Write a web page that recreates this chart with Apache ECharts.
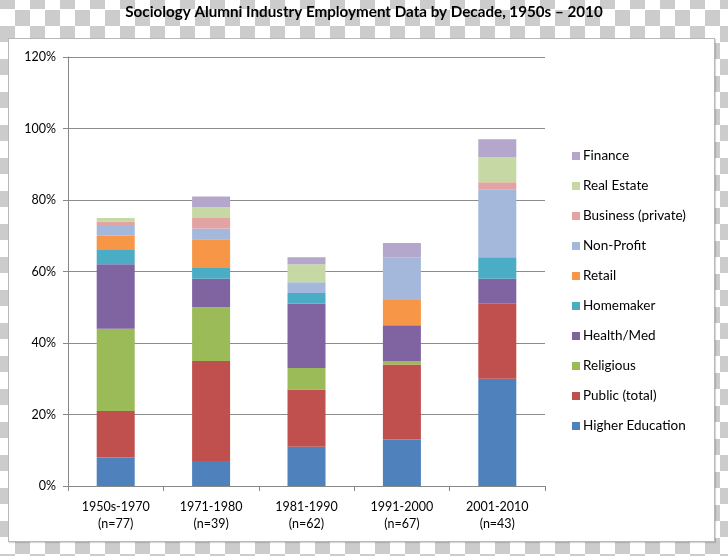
<!DOCTYPE html>
<html>
<head>
<meta charset="utf-8">
<script src="https://cdn.jsdelivr.net/npm/echarts@6/dist/echarts.min.js"></script>
<style>
  html, body { margin: 0; padding: 0; }
  body {
    width: 728px; height: 556px; position: relative; overflow: hidden;
    background: repeating-conic-gradient(#cccccc 0 25%, #ffffff 0 50%) 15px -7px / 30px 33px;
  }
  #panel {
    position: absolute; left: 8px; top: 38px; width: 705px; height: 502px;
    background: #ffffff; border: 1px solid #b8b8b8;
    box-shadow: 1px 1px 1px rgba(0,0,0,0.15);
  }
  #chart { position: absolute; left: 0; top: 0; width: 728px; height: 556px; }
</style>
</head>
<body>
<div id="panel"></div>
<div id="chart"></div>
<script>
const titleText = 'Sociology Alumni Industry Employment Data by Decade, 1950s \u2013 2010';
const categories = ['1950s-1970\n(n=77)', '1971-1980\n(n=39)', '1981-1990\n(n=62)', '1991-2000\n(n=67)', '2001-2010\n(n=43)'];
const yTicks = [0, 20, 40, 60, 80, 100, 120];

const seriesNames = ['Higher Education', 'Public (total)', 'Religious', 'Health/Med', 'Homemaker', 'Retail', 'Non-Profit', 'Business (private)', 'Real Estate', 'Finance'];
const seriesColors = ['#4F81BD', '#C0504D', '#9BBB59', '#8064A2', '#4BACC6', '#F79646', '#A3B8DA', '#E3A3A2', '#C6D9A5', '#B5A6CB'];

const higherEducation = [8, 7, 11, 13, 30];
const publicTotal     = [13, 28, 16, 21, 21];
const religious       = [23, 15, 6, 1, 0];
const healthMed       = [18, 8, 18, 10, 7];
const homemaker       = [4, 3, 3, 0, 6];
const retail          = [4, 8, 0, 7, 0];
const nonProfit       = [3, 3, 3, 12, 19];
const businessPrivate = [1, 3, 0, 0, 2];
const realEstate      = [1, 3, 5, 0, 7];
const finance         = [0, 3, 2, 4, 5];

const seriesData = [higherEducation, publicTotal, religious, healthMed, homemaker, retail, nonProfit, businessPrivate, realEstate, finance];

const FONT = 'Lato, "Open Sans", sans-serif';

const chart = echarts.init(document.getElementById('chart'), null, { renderer: 'canvas' });
chart.setOption({
  backgroundColor: 'transparent',
  animation: false,
  title: {
    text: titleText,
    left: 'center',
    top: 0,
    textStyle: { fontFamily: FONT, fontSize: 15.2, fontWeight: 'bold', color: '#000' }
  },
  legend: {
    orient: 'vertical',
    left: 567,
    top: 144,
    itemWidth: 8,
    itemHeight: 8,
    itemGap: 16,
    icon: 'rect',
    data: seriesNames.slice().reverse(),
    textStyle: { fontFamily: FONT, fontSize: 13.5, color: '#000', padding: [0, 0, 0, -2] }
  },
  grid: { left: 68, right: 183, top: 57, bottom: 70 },
  xAxis: {
    type: 'category',
    data: categories,
    axisLine: { lineStyle: { color: '#888', width: 1 } },
    axisTick: { show: true, alignWithLabel: false, length: 5, lineStyle: { color: '#888' } },
    axisLabel: { fontFamily: FONT, fontSize: 12.5, color: '#000', lineHeight: 17, margin: 12 }
  },
  yAxis: {
    type: 'value',
    min: yTicks[0],
    max: yTicks[yTicks.length - 1],
    interval: 20,
    axisLine: { show: true, lineStyle: { color: '#888', width: 1 } },
    axisTick: { show: true, inside: false, length: 5, lineStyle: { color: '#888' } },
    splitLine: { lineStyle: { color: '#8c8c8c', width: 1 } },
    axisLabel: { fontFamily: FONT, fontSize: 12.5, color: '#000', margin: 12, formatter: '{value}%' }
  },
  series: seriesNames.map((name, i) => ({
    name: name,
    type: 'bar',
    stack: 'total',
    barWidth: 38,
    data: seriesData[i],
    itemStyle: { color: seriesColors[i] },
    emphasis: { disabled: true }
  }))
});
</script>
</body>
</html>
